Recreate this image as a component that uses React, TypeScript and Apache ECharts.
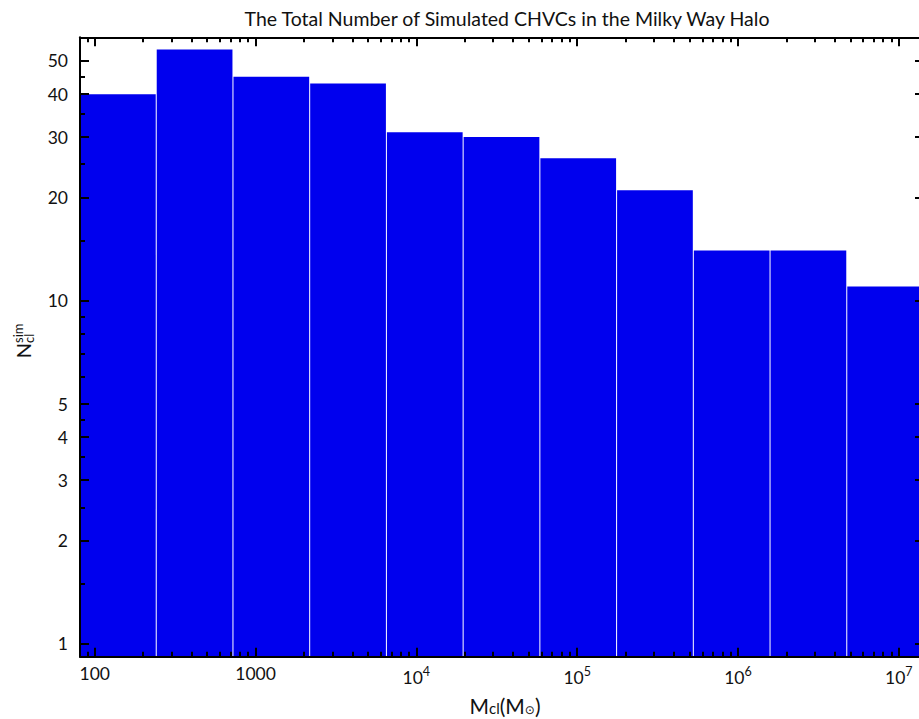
import React, { useEffect, useRef } from "react";
import * as echarts from "echarts";

// Histogram bin edges (factor-3 logarithmic bins) and counts per bin
const binEdges = [81, 243, 729, 2187, 6561, 19683, 59049, 177147, 531441, 1594323, 4782969, 14348907];
const counts = [40, 54, 45, 43, 31, 30, 26, 21, 14, 14, 11];

// Axis ranges
const X_MIN = 81;
const X_MAX = 14348907;
const Y_MIN = 0.917;
const Y_MAX = 58.6;

// Tick values
const xMajorTicks = [100, 1000, 10000, 100000, 1000000, 10000000];
const xMinorTicks = [
  90,
  200, 300, 400, 500, 600, 700, 800, 900,
  2000, 3000, 4000, 5000, 6000, 7000, 8000, 9000,
  20000, 30000, 40000, 50000, 60000, 70000, 80000, 90000,
  200000, 300000, 400000, 500000, 600000, 700000, 800000, 900000,
  2000000, 3000000, 4000000, 5000000, 6000000, 7000000, 8000000, 9000000,
];
const yMajorTicks = [1, 2, 3, 4, 5, 10, 20, 30, 40, 50];
const yMinorTicks = [1.5, 2.5, 3.5, 4.5, 6, 7, 8, 9, 15, 25, 35, 45];

const TITLE = "The Total Number of Simulated CHVCs in the Milky Way Halo";
const FONT = "Lato";
const BAR_COLOR = "#0000ee";

export default function App() {
  const ref = useRef<HTMLDivElement>(null);

  useEffect(() => {
    if (!ref.current) return;
    const chart = echarts.init(ref.current, undefined, { renderer: "svg" });

    const gridLeft = 80;
    const gridTop = 37.3;
    const gridRight = 940 - 924;
    const gridBottom = 719 - 656.7;

    const tickLine = { color: "#000", width: 2 };
    const xCommon = { type: "log", logBase: 10, min: X_MIN, max: X_MAX, splitLine: { show: false }, z: 10 } as any;
    const yCommon = { type: "log", logBase: 10, min: Y_MIN, max: Y_MAX, splitLine: { show: false }, z: 10 } as any;

    const xFormatter = (v: number) => {
      const e = Math.round(Math.log10(v));
      if (e <= 3) return String(Math.round(v));
      return "{b|10}{sup|" + e + "}";
    };

    const option: any = {
      animation: false,
      backgroundColor: "#fff",
      title: {
        text: TITLE,
        left: gridLeft + (940 - gridLeft - gridRight) / 2,
        textAlign: "center",
        top: 3,
        textStyle: { fontFamily: FONT, fontSize: 19.5, fontWeight: "normal", color: "#111" },
      },
      grid: { left: gridLeft, top: gridTop, right: gridRight, bottom: gridBottom, containLabel: false },
      xAxis: [
        {
          ...xCommon,
          position: "bottom",
          axisLine: { show: true, onZero: false, lineStyle: { color: "#000", width: 2 } },
          axisTick: { show: true, inside: true, length: 9, customValues: xMajorTicks, lineStyle: tickLine },
          axisLabel: {
            show: true,
            customValues: xMajorTicks,
            margin: 8,
            formatter: xFormatter,
            fontFamily: FONT,
            fontSize: 17.5,
            color: "#111",
            rich: {
              b: { fontFamily: FONT, fontSize: 17.5, color: "#111", lineHeight: 22, verticalAlign: "bottom" },
              sup: { fontFamily: FONT, fontSize: 12.5, color: "#111", lineHeight: 12, verticalAlign: "top" },
            },
          },
        },
        {
          ...xCommon,
          position: "bottom",
          axisLine: { show: false },
          axisTick: { show: true, inside: true, length: 5, customValues: xMinorTicks, lineStyle: tickLine },
          axisLabel: { show: false },
        },
        {
          ...xCommon,
          position: "top",
          axisLine: { show: true, onZero: false, lineStyle: { color: "#000", width: 2 } },
          axisTick: { show: true, inside: true, length: 9, customValues: xMajorTicks, lineStyle: tickLine },
          axisLabel: { show: false },
        },
        {
          ...xCommon,
          position: "top",
          axisLine: { show: false },
          axisTick: { show: true, inside: true, length: 5, customValues: xMinorTicks, lineStyle: tickLine },
          axisLabel: { show: false },
        },
      ],
      yAxis: [
        {
          ...yCommon,
          position: "left",
          axisLine: { show: true, onZero: false, lineStyle: { color: "#000", width: 2 } },
          axisTick: { show: true, inside: true, length: 9, customValues: yMajorTicks, lineStyle: tickLine },
          axisLabel: {
            show: true,
            customValues: yMajorTicks,
            margin: 12,
            fontFamily: FONT,
            fontSize: 17.5,
            color: "#111",
            formatter: (v: number) => String(Math.round(v * 10) / 10),
          },
        },
        {
          ...yCommon,
          position: "left",
          axisLine: { show: false },
          axisTick: { show: true, inside: true, length: 5, customValues: yMinorTicks, lineStyle: tickLine },
          axisLabel: { show: false },
        },
        {
          ...yCommon,
          position: "right",
          axisLine: { show: true, onZero: false, lineStyle: { color: "#000", width: 2 } },
          axisTick: { show: true, inside: true, length: 9, customValues: yMajorTicks, lineStyle: tickLine },
          axisLabel: { show: false },
        },
        {
          ...yCommon,
          position: "right",
          axisLine: { show: false },
          axisTick: { show: true, inside: true, length: 5, customValues: yMinorTicks, lineStyle: tickLine },
          axisLabel: { show: false },
        },
      ],
      series: [
        {
          type: "custom",
          xAxisIndex: 0,
          yAxisIndex: 0,
          z: 1,
          encode: { x: [0, 1], y: 2 },
          data: counts.map((c, i) => [binEdges[i], binEdges[i + 1], c]),
          renderItem: (params: any, api: any) => {
            const x0 = api.value(0);
            const x1 = api.value(1);
            const y = api.value(2);
            const p0 = api.coord([x0, y]);
            const p1 = api.coord([x1, Y_MIN]);
            return {
              type: "rect",
              shape: { x: p0[0], y: p0[1], width: p1[0] - p0[0] - 1, height: p1[1] - p0[1] },
              style: { fill: BAR_COLOR },
            };
          },
        },
      ],
      graphic: [
        {
          type: "group",
          x: 23,
          y: 352,
          rotation: Math.PI / 2,
          children: [
            {
              type: "text",
              x: 9,
              y: 0,
              style: {
                text: "N",
                fontFamily: FONT,
                fontSize: 20,
                fill: "#111",
                align: "right",
                verticalAlign: "middle",
              },
            },
            {
              type: "text",
              x: 9,
              y: -5,
              style: {
                text: "sim",
                fontFamily: FONT,
                fontSize: 13,
                fill: "#111",
                align: "left",
                verticalAlign: "middle",
              },
            },
            {
              type: "text",
              x: 9,
              y: 6,
              style: {
                text: "cl",
                fontFamily: FONT,
                fontSize: 13,
                fill: "#111",
                align: "left",
                verticalAlign: "middle",
              },
            },
          ],
        },
        {
          type: "text",
          x: 505,
          y: 705,
          style: {
            text: "M{s|cl}(M{o|⊙})",
            fontFamily: FONT,
            fontSize: 21,
            fill: "#111",
            align: "center",
            verticalAlign: "middle",
            rich: {
              s: { fontFamily: FONT, fontSize: 15, fill: "#111", verticalAlign: "bottom", lineHeight: 20 },
              o: { fontFamily: "DejaVu Sans", fontSize: 12, fill: "#111", verticalAlign: "bottom", lineHeight: 17 },
            },
          },
        },
      ],
    };

    chart.setOption(option);
    return () => chart.dispose();
  }, []);

  return (
    <div style={{ position: "fixed", left: 0, top: 0, width: 919, height: 719, overflow: "hidden", background: "#fff" }}>
      <div ref={ref} style={{ width: 940, height: 719 }} />
    </div>
  );
}
